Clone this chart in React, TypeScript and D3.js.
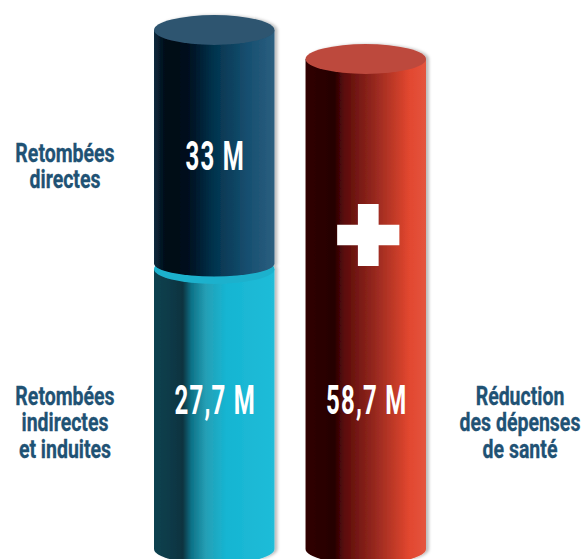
import React from "react";
import * as d3 from "d3";

const columns = ["stack", "sante"];
const directes = 33;
const indirectes = 27.7;
const sante = 58.7;
const valueLabels = ["33 M", "27,7 M", "58,7 M"];
const labelDirectes = ["Retombées", "directes"];
const labelIndirectes = ["Retombées", "indirectes", "et induites"];
const labelSante = ["Réduction", "des dépenses", "de santé"];

const FONT = "Roboto, sans-serif";
const BLUE = "#1f5274";

const width = 582;
const height = 559;

// drawing isn't to scale in the source, so the scale is piecewise
const y = d3
  .scaleLinear()
  .domain([0, indirectes, sante, indirectes + directes])
  .range([549, 269, 59, 30]);

const x = d3.scaleBand().domain(columns).range([154, 426]).paddingInner(0.205).paddingOuter(0);

const RY = 15;

const gradients = [
  {
    id: "navy",
    stops: [
      [0, "#0c2a3e"],
      [0.1, "#000814"],
      [0.27, "#000c1c"],
      [0.5, "#03344e"],
      [0.78, "#164f70"],
      [1, "#2c5f80"],
    ],
  },
  {
    id: "teal",
    stops: [
      [0, "#0f4250"],
      [0.24, "#0a3340"],
      [0.31, "#0d7287"],
      [0.43, "#259fb5"],
      [0.6, "#16b5d2"],
      [1, "#20bcd8"],
    ],
  },
  {
    id: "red",
    stops: [
      [0, "#300204"],
      [0.24, "#260003"],
      [0.32, "#5a0b0a"],
      [0.58, "#98291f"],
      [0.86, "#e2472f"],
      [1, "#e4553f"],
    ],
  },
];

const Cylinder = ({ col, from, to, fill, cap, ryBottom = RY }) => {
  const x0 = x(col);
  const w = x.bandwidth();
  const rx = w / 2;
  const top = y(to);
  const bottom = y(from);
  const d = `M${x0},${top}L${x0},${bottom}A${rx},${ryBottom} 0 0 0 ${x0 + w},${bottom}L${x0 + w},${top}Z`;
  return (
    <g>
      <path d={d} fill={`url(#${fill})`} />
      <ellipse cx={x0 + rx} cy={top} rx={rx} ry={RY} fill={cap} />
    </g>
  );
};

const Lines = ({ lines, cx, y0 }) => (
  <g transform={`translate(${cx},0) scale(0.78,1)`}>
    <text
      textAnchor="middle"
      fontFamily={FONT}
      fontWeight={700}
      fontSize={25}
      fill={BLUE}
      stroke={BLUE}
      strokeWidth={0.3}
    >
      {lines.map((t, i) => (
        <tspan key={t} x={0} y={y0 + i * 26.5}>
          {t}
        </tspan>
      ))}
    </text>
  </g>
);

const Value = ({ label, cx, y0 }) => (
  <g transform={`translate(${cx + 1},0) scale(0.6,1)`}>
    <text
      x={0}
      y={y0}
      textAnchor="middle"
      fontFamily={FONT}
      fontWeight={700}
      fontSize={40}
      letterSpacing={2}
      fill="#fff"
    >
      {label}
    </text>
  </g>
);

export default function App() {
  const cxStack = x("stack") + x.bandwidth() / 2;
  const cxSante = x("sante") + x.bandwidth() / 2;
  const cross = d3.symbol().type(d3.symbolCross).size(2150)();
  return (
    <svg
      width={width}
      height={height}
      viewBox={`0 0 ${width} ${height}`}
      style={{ position: "absolute", left: 0, top: 0, background: "#fff" }}
    >
      <defs>
        {gradients.map((g) => (
          <linearGradient key={g.id} id={g.id} x1="0" x2="1" y1="0" y2="0">
            {g.stops.map(([o, c]) => (
              <stop key={o} offset={o} stopColor={c} />
            ))}
          </linearGradient>
        ))}
        <filter id="shade" x="-10%" y="-5%" width="120%" height="110%">
          <feDropShadow dx="3" dy="0" stdDeviation="1.5" floodColor="#000" floodOpacity="0.25" />
        </filter>
      </defs>

      <g filter="url(#shade)">
        <Cylinder col="stack" from={0} to={indirectes} fill="teal" cap="#1fb1cd" />
        <Cylinder
          col="stack"
          from={indirectes + 0.8}
          to={indirectes + directes}
          fill="navy"
          cap="#2d546f"
          ryBottom={13}
        />
      </g>
      <g filter="url(#shade)">
        <Cylinder col="sante" from={0} to={sante} fill="red" cap="#bd4a3e" />
      </g>

      <Value label={valueLabels[0]} cx={cxStack} y0={170} />
      <Value label={valueLabels[1]} cx={cxStack} y0={414} />
      <Value label={valueLabels[2]} cx={cxSante} y0={414} />

      <path d={cross} transform={`translate(${cxSante + 2.5},235)`} fill="#fff" />

      <Lines lines={labelDirectes} cx={65} y0={162} />
      <Lines lines={labelIndirectes} cx={65} y0={405} />
      <Lines lines={labelSante} cx={520} y0={405} />
    </svg>
  );
}
